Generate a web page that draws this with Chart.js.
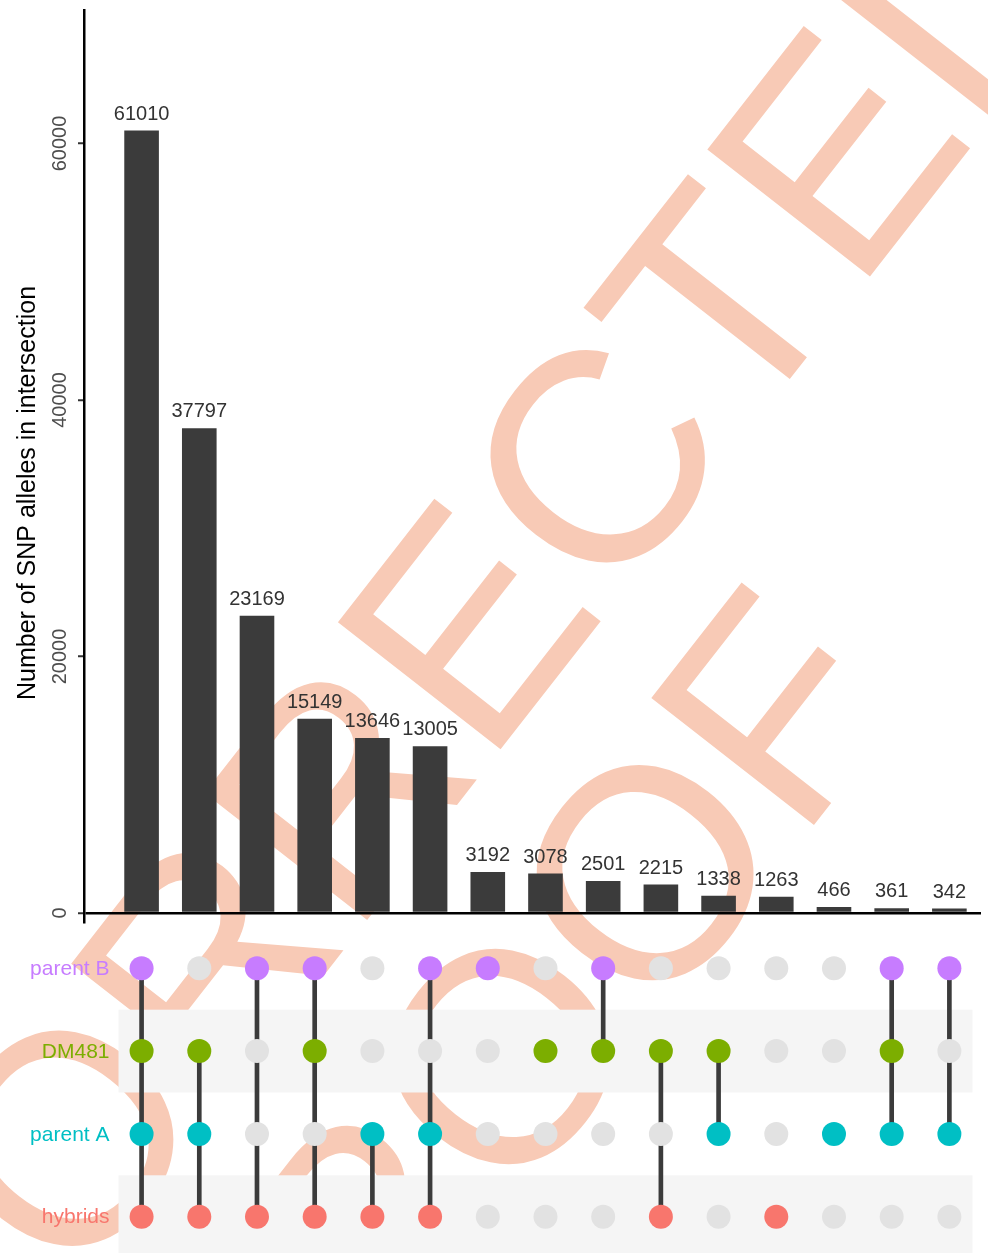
<!DOCTYPE html>
<html>
<head>
<meta charset="utf-8">
<script src="https://cdn.jsdelivr.net/npm/chart.js@4.4.1/dist/chart.umd.min.js"></script>
<style>
  html, body { margin: 0; padding: 0; background: #fff; }
  #wrap { position: relative; width: 988px; height: 1253px; overflow: hidden; }
  #wrap canvas { position: absolute; left: 0; top: 0; }
</style>
</head>
<body>
<div id="wrap">
  <canvas id="bars" width="988" height="1253"></canvas>
  <canvas id="matrix" width="988" height="1253"></canvas>
</div>
<script>
// Intersection sizes, ordered by size
const intersectionSizes = [61010, 37797, 23169, 15149, 13646, 13005, 3192, 3078, 2501, 2215, 1338, 1263, 466, 361, 342];

// Sets (top to bottom in the matrix) and their colours
const setNames = ['parent B', 'DM481', 'parent A', 'hybrids'];
const setColors = ['#C77CFF', '#7CAE00', '#00BFC4', '#F8766D'];

// Membership of each intersection in each set (1 = member)
const parentB = [1, 0, 1, 1, 0, 1, 1, 0, 1, 0, 0, 0, 0, 1, 1];
const dm481   = [1, 1, 0, 1, 0, 0, 0, 1, 1, 1, 1, 0, 0, 1, 0];
const parentA = [1, 1, 0, 0, 1, 1, 0, 0, 0, 0, 1, 0, 1, 1, 1];
const hybrids = [1, 1, 1, 1, 1, 1, 0, 0, 0, 1, 0, 1, 0, 0, 0];

// Axis ticks and title
const yTickValues = [0, 20000, 40000, 60000];
const yTitle = 'Number of SNP alleles in intersection';

// Page stamp lines
const stampLines = ['CORRECTED', 'PROOF'];

const FONT = '"Liberation Sans", Arial, Helvetica, sans-serif';
const X_MIN = 0.002, X_MAX = 15.548;
const memberships = [parentB, dm481, parentA, hybrids];
const rowValues = [4, 3, 2, 1];

// ---------- background stamp ----------
const stamp = {
  id: 'stamp',
  beforeDraw(chart) {
    const ctx = chart.ctx;
    const anchors = [[-58.4, 1464.7], [254.9, 1540.6]];
    ctx.save();
    ctx.fillStyle = '#F8CAB6';
    ctx.font = '300px ' + FONT;
    ctx.textAlign = 'left';
    ctx.textBaseline = 'alphabetic';
    stampLines.forEach((t, i) => {
      ctx.save();
      ctx.translate(anchors[i][0], anchors[i][1]);
      ctx.rotate(-52 * Math.PI / 180);
      ctx.fillText(t, 0, 0);
      ctx.restore();
    });
    ctx.restore();
  }
};

// ---------- bar value labels, y tick labels, y title ----------
const barText = {
  id: 'barText',
  afterDatasetsDraw(chart) {
    const ctx = chart.ctx;
    const meta = chart.getDatasetMeta(0);
    ctx.save();
    ctx.font = '20px ' + FONT;
    ctx.fillStyle = '#333333';
    ctx.textAlign = 'center';
    ctx.textBaseline = 'alphabetic';
    meta.data.forEach((el, i) => {
      ctx.fillText(String(intersectionSizes[i]), el.x, el.y - 11);
    });

    const ys = chart.scales.y;
    ctx.fillStyle = '#4d4d4d';
    ys.ticks.forEach(t => {
      const p = ys.getPixelForValue(t.value);
      ctx.save();
      ctx.translate(65.5, p);
      ctx.rotate(-Math.PI / 2);
      ctx.fillText(String(t.value), 0, 0);
      ctx.restore();
    });

    ctx.font = '25px ' + FONT;
    ctx.fillStyle = '#000000';
    ctx.save();
    ctx.translate(35, 493);
    ctx.rotate(-Math.PI / 2);
    ctx.fillText(yTitle, 0, 0);
    ctx.restore();
    ctx.restore();
  }
};

new Chart(document.getElementById('bars'), {
  type: 'bar',
  data: {
    datasets: [{
      data: intersectionSizes.map((v, i) => ({ x: i + 1, y: v })),
      backgroundColor: '#3b3b3b',
      barPercentage: 0.6,
      categoryPercentage: 1
    }]
  },
  options: {
    responsive: false,
    animation: false,
    devicePixelRatio: 1,
    events: [],
    layout: { autoPadding: false, padding: { left: 0, top: 10, right: 7, bottom: 331 } },
    plugins: { legend: { display: false }, tooltip: { enabled: false } },
    scales: {
      x: { type: 'linear', min: X_MIN, max: X_MAX, offset: false, display: false },
      y: {
        type: 'linear',
        min: -702,
        max: 70409,
        afterFit(s) { s.width = 84; },
        afterBuildTicks(s) { s.ticks = yTickValues.map(v => ({ value: v })); },
        ticks: { display: false },
        border: { display: true, color: '#000000', width: 2.5 },
        grid: {
          color: c => (c.tick && c.tick.value === 0 ? '#000000' : 'rgba(0,0,0,0)'),
          lineWidth: 2.5,
          drawTicks: true,
          tickLength: 6,
          tickColor: '#333333',
          tickWidth: 2
        }
      }
    }
  },
  plugins: [stamp, barText]
});

// ---------- membership matrix ----------
const connectors = intersectionSizes.map((_, i) => {
  const rows = rowValues.filter((r, k) => memberships[k][i] === 1);
  return rows.length > 1 ? { x: i + 1, y: [Math.min(...rows), Math.max(...rows)] } : null;
}).filter(Boolean);

const dotData = [];
const dotColors = [];
memberships.forEach((m, k) => m.forEach((on, i) => {
  dotData.push({ x: i + 1, y: rowValues[k] });
  dotColors.push(on ? setColors[k] : '#e2e2e2');
}));

const stripes = {
  id: 'stripes',
  beforeDatasetsDraw(chart) {
    const { ctx, scales: { x, y } } = chart;
    ctx.save();
    ctx.fillStyle = '#f5f5f5';
    rowValues.forEach((r, k) => {
      if (k % 2 === 1) {
        const x0 = x.getPixelForValue(0.6), x1 = x.getPixelForValue(15.4);
        const y0 = y.getPixelForValue(r + 0.5), y1 = y.getPixelForValue(r - 0.5);
        ctx.fillRect(x0, y0, x1 - x0, y1 - y0);
      }
    });
    ctx.restore();
  }
};

const rowLabels = {
  id: 'rowLabels',
  afterDraw(chart) {
    const { ctx, scales: { y } } = chart;
    ctx.save();
    ctx.font = '21px ' + FONT;
    ctx.textAlign = 'right';
    ctx.textBaseline = 'middle';
    setNames.forEach((name, k) => {
      ctx.fillStyle = setColors[k];
      ctx.fillText(name, 109.5, y.getPixelForValue(rowValues[k]) + 1);
    });
    ctx.restore();
  }
};

new Chart(document.getElementById('matrix'), {
  data: {
    datasets: [
      { type: 'bar', data: connectors, backgroundColor: '#3b3b3b', barThickness: 4, order: 2 },
      { type: 'scatter', data: dotData, pointBackgroundColor: dotColors, pointBorderWidth: 0, pointRadius: 12, order: 1 }
    ]
  },
  options: {
    responsive: false,
    animation: false,
    devicePixelRatio: 1,
    events: [],
    layout: { autoPadding: false, padding: { left: 84, top: 922, right: 7, bottom: 0 } },
    plugins: { legend: { display: false }, tooltip: { enabled: false } },
    scales: {
      x: { type: 'linear', min: X_MIN, max: X_MAX, offset: false, display: false },
      y: { type: 'linear', min: 0.5616, max: 4.559, display: false }
    }
  },
  plugins: [stripes, rowLabels]
});
</script>
</body>
</html>
